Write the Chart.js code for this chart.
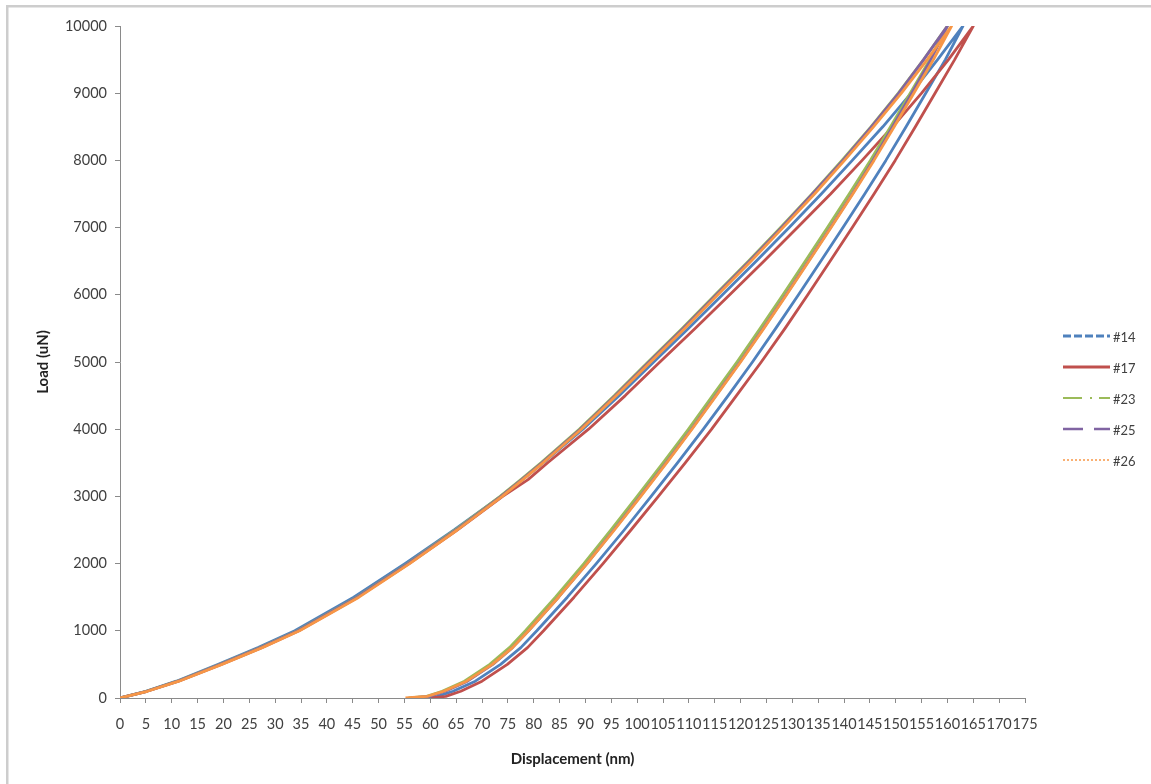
<!DOCTYPE html>
<html>
<head>
<meta charset="utf-8">
<script src="https://cdn.jsdelivr.net/npm/chart.js@4.4.1/dist/chart.umd.min.js"></script>
<style>
  html, body { margin: 0; padding: 0; background: #fff; overflow: hidden; }
  canvas { display: block; }
</style>
</head>
<body>
<canvas id="chart" width="1151" height="784"></canvas>
<script>
// Nanoindentation load–displacement curves for five indents.
const seriesNames = ['#14', '#17', '#23', '#25', '#26'];
const seriesColors = ['#4F81BD', '#C0504D', '#9BBB59', '#8064A2', '#F79646'];

// Load levels (uN) at which the loading and unloading branches are sampled
const loadingLevels = [0, 100, 250, 500, 750, 1000, 1500, 2000, 2500, 3000, 3250, 3500, 4000,
  4500, 5000, 5500, 6000, 6500, 7000, 7500, 8000, 8500, 9000, 9500, 10000];
const unloadingLevels = [10000, 9500, 9000, 8500, 8000, 7500, 7000, 6500, 6000, 5500, 5000,
  4500, 4000, 3500, 3000, 2500, 2000, 1500, 1000, 750, 500, 250, 100, 25, 0];

// Displacement (nm) on loading
const loading14 = [0, 5.0, 10.9, 19.0, 26.7, 33.8, 45.2, 55.1, 64.6, 73.6, 77.8, 81.8, 89.5,
  96.5, 103.2, 109.9, 116.5, 123.0, 129.4, 135.6, 141.6, 147.5, 153.0, 158.1, 163.0];
const loading17 = [0, 5.2, 11.3, 19.6, 27.4, 34.6, 46.0, 55.9, 65.2, 74.0, 78.9, 82.7, 90.6,
  97.7, 104.4, 111.2, 117.9, 124.5, 131.0, 137.4, 143.5, 149.4, 155.0, 160.2, 165.0];
const loading23 = [0, 5.1, 11.1, 19.3, 27.1, 34.3, 45.8, 55.6, 64.8, 73.5, 77.5, 81.4, 88.8,
  95.6, 102.1, 108.7, 115.1, 121.5, 127.7, 133.8, 139.6, 145.2, 150.5, 155.4, 160.0];
const loading25 = [0, 5.2, 11.2, 19.4, 27.2, 34.4, 45.9, 55.7, 65.0, 73.7, 77.7, 81.6, 89.0,
  95.8, 102.3, 108.9, 115.3, 121.7, 127.9, 133.9, 139.8, 145.3, 150.6, 155.4, 160.0];
const loading26 = [0, 5.3, 11.4, 19.7, 27.5, 34.7, 46.2, 56.0, 65.2, 73.9, 77.9, 81.8, 89.2,
  96.0, 102.6, 109.2, 115.6, 122.0, 128.2, 134.3, 140.1, 145.7, 151.1, 156.1, 160.8];

// Displacement (nm) on unloading
const unloading14 = [163.0, 159.6, 155.8, 152.0, 148.1, 144.0, 139.8, 135.5, 131.2, 126.8, 122.3,
  117.6, 112.8, 107.8, 102.7, 97.5, 92.1, 86.5, 80.6, 77.5, 73.6, 68.7, 64.4, 61.4, 58.1];
const unloading17 = [165.0, 161.4, 157.6, 153.8, 149.9, 145.8, 141.6, 137.3, 133.0, 128.6, 124.0,
  119.2, 114.4, 109.3, 104.1, 98.8, 93.4, 87.8, 81.9, 78.8, 74.9, 70.0, 65.9, 63.0, 60.2];
const unloading23 = [160.0, 156.6, 152.8, 149.0, 145.1, 141.0, 136.8, 132.5, 128.2, 123.8, 119.3,
  114.6, 109.9, 105.0, 100.0, 94.9, 89.7, 84.2, 78.4, 75.3, 71.5, 66.6, 62.3, 59.3, 55.8];
const unloading25 = [160.0, 156.8, 153.1, 149.4, 145.6, 141.6, 137.4, 133.1, 128.8, 124.4, 119.9,
  115.2, 110.5, 105.6, 100.6, 95.5, 90.3, 84.8, 79.0, 75.9, 72.1, 67.2, 62.9, 59.8, 56.3];
const unloading26 = [160.8, 157.3, 153.5, 149.7, 145.8, 141.7, 137.5, 133.2, 128.9, 124.5, 120.0,
  115.3, 110.6, 105.7, 100.7, 95.6, 90.3, 84.8, 79.0, 75.9, 72.0, 67.0, 62.6, 59.4, 55.2];

// Axis ranges and tick steps
const xMin = 0, xMax = 175, xStep = 5;
const yMin = 0, yMax = 10000, yStep = 1000;

const loadingSets = [loading14, loading17, loading23, loading25, loading26];
const unloadingSets = [unloading14, unloading17, unloading23, unloading25, unloading26];

// Legend line styles
const legendDash = [[8, 3], [], [19, 8, 2, 7], [20, 11], [2, 2]];
const legendLineWidth = [3, 3, 2, 2.5, 1.5];

const FONT = 'Lato, "Open Sans", "Liberation Sans", sans-serif';

function curve(i) {
  const up = loadingLevels.map((load, k) => ({ x: loadingSets[i][k], y: load }));
  const down = unloadingLevels.map((load, k) => ({ x: unloadingSets[i][k], y: load }));
  return up.concat(down);
}

const datasets = seriesNames.map((name, i) => ({
  label: name,
  data: curve(i),
  showLine: true,
  borderColor: seriesColors[i],
  backgroundColor: seriesColors[i],
  borderWidth: 2.8,
  borderJoinStyle: 'round',
  pointRadius: 0,
  pointHoverRadius: 0,
  tension: 0,
  fill: false,
  order: seriesNames.length - i
}));

// White background and the light grey frame around the chart
const framePlugin = {
  id: 'frame',
  beforeDraw(chart) {
    const ctx = chart.ctx;
    ctx.save();
    ctx.fillStyle = '#ffffff';
    ctx.fillRect(0, 0, chart.width, chart.height);
    ctx.fillStyle = '#cdcdcd';
    ctx.fillRect(6, 5, 2.5, chart.height);
    ctx.fillRect(6, 5, chart.width, 2.5);
    ctx.restore();
  }
};

// Legend drawn at the right with each series' line style
const legendPlugin = {
  id: 'sideLegend',
  afterDraw(chart) {
    const ctx = chart.ctx;
    const x0 = 1063, x1 = 1110, textX = 1113, top = 338, gap = 31;
    ctx.save();
    seriesNames.forEach((name, i) => {
      const y = top + i * gap;
      ctx.beginPath();
      ctx.setLineDash(legendDash[i]);
      ctx.lineWidth = legendLineWidth[i];
      ctx.strokeStyle = seriesColors[i];
      ctx.moveTo(x0, y - 2);
      ctx.lineTo(x1, y - 2);
      ctx.stroke();
      ctx.setLineDash([]);
      ctx.fillStyle = '#404040';
      ctx.font = '13px ' + FONT;
      ctx.textAlign = 'left';
      ctx.textBaseline = 'middle';
      ctx.fillText(name, textX, y);
    });
    ctx.restore();
  }
};

new Chart(document.getElementById('chart'), {
  type: 'scatter',
  data: { datasets },
  options: {
    responsive: false,
    animation: false,
    devicePixelRatio: 1,
    layout: { padding: { left: 0, top: 26, right: 126, bottom: 0 } },
    plugins: {
      legend: { display: false },
      tooltip: { enabled: false }
    },
    scales: {
      x: {
        type: 'linear',
        min: xMin,
        max: xMax,
        afterFit(scale) { scale.height = 86; },
        border: { color: '#8a8a8a', width: 1 },
        grid: { drawOnChartArea: false, drawTicks: true, tickLength: 5, color: '#8a8a8a' },
        ticks: {
          stepSize: xStep,
          autoSkip: false,
          maxRotation: 0,
          minRotation: 0,
          padding: 13,
          color: '#404040',
          font: { family: FONT, size: 14.5 },
          callback: (v) => String(v)
        },
        title: {
          display: true,
          text: 'Displacement (nm)',
          color: '#222',
          font: { family: FONT, size: 15, weight: 'bold' },
          padding: { top: 0, bottom: 16 }
        }
      },
      y: {
        type: 'linear',
        min: yMin,
        max: yMax,
        afterFit(scale) { scale.width = 120; },
        border: { color: '#8a8a8a', width: 1 },
        grid: { drawOnChartArea: false, drawTicks: true, tickLength: 5, color: '#8a8a8a' },
        ticks: {
          stepSize: yStep,
          padding: 8,
          color: '#404040',
          font: { family: FONT, size: 14.5 },
          callback: (v) => String(v)
        },
        title: {
          display: true,
          text: 'Load (uN)',
          color: '#222',
          font: { family: FONT, size: 15, weight: 'bold' },
          padding: { top: 34, bottom: 0 }
        }
      }
    }
  },
  plugins: [framePlugin, legendPlugin]
});
</script>
</body>
</html>
